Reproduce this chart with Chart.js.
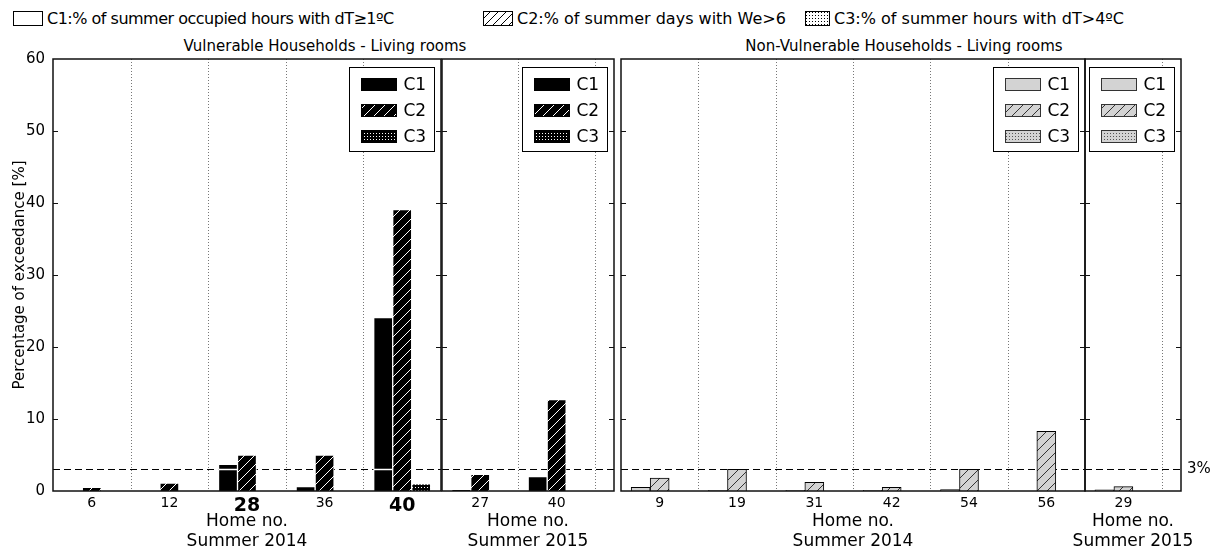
<!DOCTYPE html>
<html>
<head>
<meta charset="utf-8">
<script src="https://cdn.jsdelivr.net/npm/chart.js@4.4.1/dist/chart.umd.min.js"></script>
<style>
  body { margin: 0; background: #fff; width: 1218px; height: 552px; position: relative; overflow: hidden;
         font-family: "DejaVu Sans", sans-serif; color: #000; }
  canvas.panel { position: absolute; top: 0; }
  .key { position: absolute; top: 9px; height: 18px; display: flex; align-items: center; font-size: 16px; white-space: nowrap; }
  .key canvas { margin-right: 4px; }
  .sub { position: absolute; top: 37px; font-size: 15px; transform: translateX(-50%); white-space: nowrap; }
</style>
</head>
<body>
<div class="key" style="left:13px;letter-spacing:-0.5px"><canvas id="k1" width="30" height="15"></canvas>C1:% of summer occupied hours with dT≥1ºC</div>
<div class="key" style="left:483px"><canvas id="k2" width="30" height="15"></canvas>C2:% of summer days with We&gt;6</div>
<div class="key" style="left:805px"><canvas id="k3" width="25" height="15"></canvas>C3:% of summer hours with dT&gt;4ºC</div>
<div class="sub" style="left:325px">Vulnerable Households - Living rooms</div>
<div class="sub" style="left:904px">Non-Vulnerable Households - Living rooms</div>

<canvas class="panel" id="v14" width="444" height="552" style="left:0px"></canvas>
<canvas class="panel" id="v15" width="178" height="552" style="left:439px"></canvas>
<canvas class="panel" id="n14" width="470" height="552" style="left:618px"></canvas>
<canvas class="panel" id="n15" width="178" height="552" style="left:1040px"></canvas>

<script>
// ---------------------------
// Data
// ---------------------------
const seriesNames = ["C1", "C2", "C3"];

// Vulnerable households, summer 2014
const homesV14 = ["6", "12", "28", "36", "40"];
const c1V14 = [0, 0, 3.7, 0.6, 24.1];
const c2V14 = [0.5, 1.1, 5.0, 5.0, 39.1];
const c3V14 = [0, 0, 0, 0, 1.0];
const boldHomesV14 = ["28", "40"];

// Vulnerable households, summer 2015
const homesV15 = ["27", "40"];
const c1V15 = [0.2, 2.0];
const c2V15 = [2.3, 12.7];
const c3V15 = [0, 0];

// Non-vulnerable households, summer 2014
const homesN14 = ["9", "19", "31", "42", "54", "56"];
const c1N14 = [0.5, 0.1, 0.1, 0.1, 0.2, 0];
const c2N14 = [1.8, 3.0, 1.2, 0.5, 3.0, 8.3];
const c3N14 = [0, 0, 0, 0, 0, 0];

// Non-vulnerable households, summer 2015
const homesN15 = ["29"];
const c1N15 = [0.15];
const c2N15 = [0.6];
const c3N15 = [0];

const yMin = 0;
const yMax = 60;
const yStep = 10;
const threshold = 3;

Chart.defaults.font.family = "'DejaVu Sans', sans-serif";
Chart.defaults.color = "#000";

// ---------------------------
// Fill patterns (matplotlib-like hatches)
// ---------------------------
function hatch(bg, fg, size) {
  const c = document.createElement("canvas");
  c.width = c.height = size;
  const x = c.getContext("2d");
  x.fillStyle = bg;
  x.fillRect(0, 0, size, size);
  x.strokeStyle = fg;
  x.lineWidth = 1;
  x.beginPath();
  x.moveTo(0, size); x.lineTo(size, 0);
  x.moveTo(-1, 1); x.lineTo(1, -1);
  x.moveTo(size - 1, size + 1); x.lineTo(size + 1, size - 1);
  x.stroke();
  return x.createPattern(c, "repeat");
}

function dots(bg, fg) {
  const c = document.createElement("canvas");
  c.width = c.height = 3;
  const x = c.getContext("2d");
  x.fillStyle = bg;
  x.fillRect(0, 0, 3, 3);
  x.fillStyle = fg;
  x.fillRect(1, 1, 1, 1);
  return x.createPattern(c, "repeat");
}

const darkPal = {
  fills: ["#000", hatch("#000", "#fff", 10), dots("#000", "#fff")],
  edge: "#fff",
  swatch: "#000",
};
const grayPal = {
  fills: ["#d3d3d3", hatch("#d3d3d3", "#333", 10), dots("#d3d3d3", "#555")],
  edge: "#000",
  swatch: "#333",
};

// top key swatches
[["k1", "#fff"], ["k2", hatch("#fff", "#000", 8)], ["k3", dots("#fff", "#000")]].forEach(([id, fill]) => {
  const el = document.getElementById(id);
  const x = el.getContext("2d");
  x.fillStyle = fill;
  x.fillRect(0.5, 0.5, el.width - 1, el.height - 1);
  x.strokeStyle = "#000";
  x.strokeRect(0.5, 0.5, el.width - 1, el.height - 1);
});

// ---------------------------
// Panel decorations: separators, 3% line, frame, inner legend, axis caption
// ---------------------------
const panelPlugin = {
  id: "panel",
  beforeDatasetsDraw(chart, args, o) {
    const { ctx, chartArea: a, scales: { x, y } } = chart;
    ctx.save();
    ctx.lineWidth = 1;
    ctx.strokeStyle = "#777";
    ctx.setLineDash([1, 2]);
    for (let i = 0; i < o.count; i++) {
      const px = Math.round(x.getPixelForValue(i + 0.5)) + 0.5;
      if (px > a.right - 2) continue;
      ctx.beginPath();
      ctx.moveTo(px, a.top);
      ctx.lineTo(px, a.bottom);
      ctx.stroke();
    }
    ctx.strokeStyle = "#000";
    ctx.setLineDash([7, 4]);
    const py = Math.round(y.getPixelForValue(threshold)) + 0.5;
    ctx.beginPath();
    ctx.moveTo(a.left, py);
    ctx.lineTo(a.right, py);
    ctx.stroke();
    ctx.restore();
  },
  afterDatasetsDraw(chart, args, o) {
    if (!o.markC1) return;
    const { ctx, scales: { y } } = chart;
    const py = Math.round(y.getPixelForValue(threshold)) + 0.5;
    const meta = chart.getDatasetMeta(0);
    ctx.save();
    ctx.strokeStyle = "#fff";
    ctx.lineWidth = 1.5;
    meta.data.forEach((bar, i) => {
      if (chart.data.datasets[0].data[i].y <= threshold) return;
      ctx.beginPath();
      ctx.moveTo(bar.x - bar.width / 2, py);
      ctx.lineTo(bar.x + bar.width / 2, py);
      ctx.stroke();
    });
    ctx.restore();
  },
  afterDraw(chart, args, o) {
    const { ctx, chartArea: a, scales: { x, y } } = chart;
    ctx.save();
    // frame
    ctx.strokeStyle = "#111";
    ctx.lineWidth = 1.5;
    ctx.strokeRect(a.left, a.top, a.right - a.left, a.bottom - a.top);
    // inward y ticks on both sides
    ctx.lineWidth = 1;
    for (let v = yMin + yStep; v < yMax; v += yStep) {
      const py = Math.round(y.getPixelForValue(v)) + 0.5;
      ctx.beginPath();
      ctx.moveTo(a.left, py); ctx.lineTo(a.left + 5, py);
      ctx.moveTo(a.right, py); ctx.lineTo(a.right - 5, py);
      ctx.stroke();
    }
    // inner legend
    const bw = 85, bh = 84;
    const bx = Math.round(a.right - 7 - bw) + 0.5;
    const by = Math.round(a.top + 8) + 0.5;
    ctx.fillStyle = "#fff";
    ctx.fillRect(bx, by, bw, bh);
    ctx.strokeStyle = "#000";
    ctx.strokeRect(bx, by, bw, bh);
    chart.data.datasets.forEach((ds, i) => {
      const cy = by + 17 + i * 26;
      ctx.fillStyle = ds.backgroundColor;
      ctx.fillRect(bx + 12, cy - 6, 35, 12);
      ctx.strokeStyle = o.swatchBorder;
      ctx.strokeRect(bx + 12, cy - 6, 35, 12);
      ctx.fillStyle = "#000";
      ctx.font = "17px 'DejaVu Sans'";
      ctx.textBaseline = "middle";
      ctx.textAlign = "left";
      ctx.fillText(ds.label, bx + 54, cy + 1);
    });
    // axis caption under the tick labels (not squeezed to the panel width)
    ctx.font = "17px 'DejaVu Sans'";
    ctx.textAlign = "center";
    ctx.textBaseline = "middle";
    ctx.fillStyle = "#000";
    const cx = (a.left + a.right) / 2;
    ctx.fillText("Home no.", cx, x.bottom - 30);
    ctx.fillText(o.season, cx, x.bottom - 10);
    // threshold label
    if (o.pctLabel) {
      ctx.font = "15px 'DejaVu Sans'";
      ctx.textAlign = "left";
      ctx.fillText("3%", a.right + 6, y.getPixelForValue(threshold));
    }
    ctx.restore();
  },
};

// ---------------------------
// Build one sub-panel
// ---------------------------
function makePanel(id, cfg) {
  const datasets = [cfg.c1, cfg.c2, cfg.c3].map((vals, k) => ({
    label: seriesNames[k],
    data: vals.map((v, i) => ({ x: i, y: v })),
    backgroundColor: cfg.pal.fills[k],
    borderColor: cfg.pal.edge,
    borderWidth: 1,
    barThickness: 19,
  }));

  const yScale = {
    display: cfg.showY,
    min: yMin,
    max: yMax,
    grid: { display: false, drawTicks: false },
    border: { display: false },
    ticks: { stepSize: yStep, padding: 8, font: { size: 15 } },
    title: {
      display: cfg.showY,
      text: "Percentage of exceedance [%]",
      font: { size: 15 },
      padding: { top: 11, bottom: 0 },
    },
  };
  if (cfg.showY) yScale.afterFit = (s) => { s.width = 53; };

  return new Chart(document.getElementById(id), {
    type: "bar",
    data: { datasets },
    options: {
      responsive: false,
      animation: false,
      layout: { padding: { left: cfg.padL, right: cfg.padR, top: 59, bottom: 0 } },
      plugins: {
        legend: { display: false },
        tooltip: { enabled: false },
        panel: { count: cfg.homes.length, markC1: cfg.markC1, swatchBorder: cfg.pal.swatch,
                 pctLabel: cfg.pctLabel, season: cfg.season },
      },
      scales: {
        x: {
          type: "linear",
          min: -0.5,
          max: cfg.xMax,
          offset: false,
          grid: { display: false, drawTicks: false, offset: false },
          border: { display: false },
          afterBuildTicks: (s) => { s.ticks = cfg.homes.map((h, i) => ({ value: i })); },
          ticks: {
            autoSkip: false,
            maxRotation: 0,
            padding: 4,
            font: (ctx) => {
              const lab = cfg.homes[ctx.tick ? ctx.tick.value : -1];
              return (cfg.bold || []).includes(lab) ? { size: 19, weight: "bold" } : { size: 14 };
            },
            callback: (v) => cfg.homes[v] || "",
          },
          title: { display: false },
          afterFit: (s) => { s.height = 61; s.paddingLeft = 0; s.paddingRight = 0; },
        },
        y: yScale,
      },
    },
    plugins: [panelPlugin],
  });
}

makePanel("v14", { homes: homesV14, c1: c1V14, c2: c2V14, c3: c3V14, pal: darkPal, showY: true,
  xMax: homesV14.length - 0.5, padL: 0, padR: 3, season: "Summer 2014", bold: boldHomesV14, markC1: true });
makePanel("v15", { homes: homesV15, c1: c1V15, c2: c2V15, c3: c3V15, pal: darkPal, showY: false,
  xMax: homesV15.length - 0.25, padL: 3, padR: 3, season: "Summer 2015", markC1: true });
makePanel("n14", { homes: homesN14, c1: c1N14, c2: c2N14, c3: c3N14, pal: grayPal, showY: false,
  xMax: homesN14.length - 0.5, padL: 3, padR: 3, season: "Summer 2014" });
makePanel("n15", { homes: homesN15, c1: c1N15, c2: c2N15, c3: c3N15, pal: grayPal, showY: false,
  xMax: homesN15.length - 0.25, padL: 45, padR: 37, season: "Summer 2015", pctLabel: true });
</script>
</body>
</html>
